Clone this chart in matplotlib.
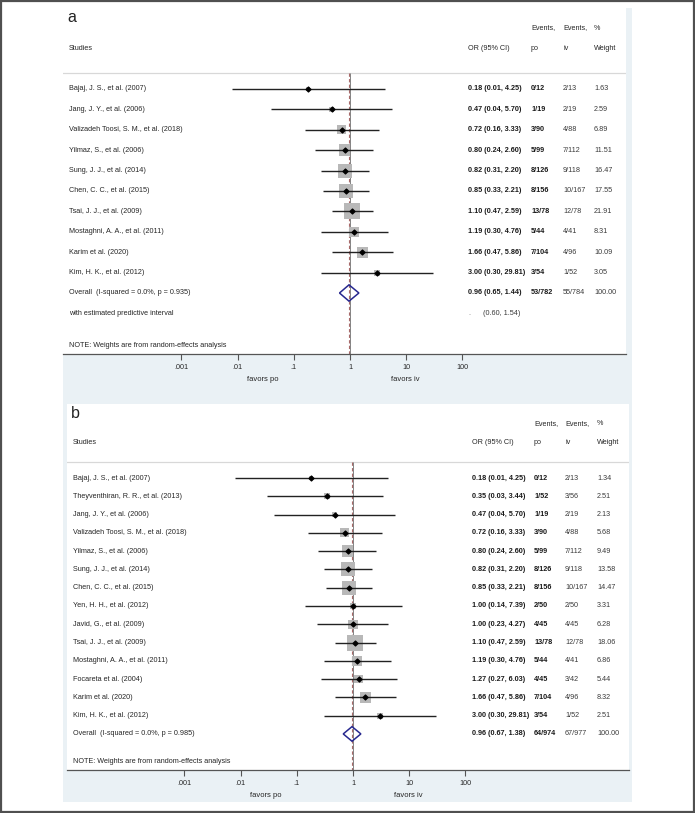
"""Forest plots a and b: OR of po vs iv, random-effects meta-analysis."""

import numpy as np
import matplotlib
matplotlib.use("Agg")
import matplotlib.pyplot as plt
import matplotlib.transforms as mtransforms
from matplotlib.patches import Rectangle, Polygon

plt.rcParams["font.family"] = ["Liberation Sans", "DejaVu Sans"]

# ---------------- data: panel a ----------------
studies_a = ["Bajaj, J. S., et al. (2007)", "Jang, J. Y., et al. (2006)",
             "Valizadeh Toosi, S. M., et al. (2018)", "Yilmaz, S., et al. (2006)",
             "Sung, J. J., et al. (2014)", "Chen, C. C., et al. (2015)",
             "Tsai, J. J., et al. (2009)", "Mostaghni, A. A., et al. (2011)",
             "Karim et al. (2020)", "Kim, H. K., et al. (2012)"]
or_a = [0.18, 0.47, 0.72, 0.80, 0.82, 0.85, 1.10, 1.19, 1.66, 3.00]
lo_a = [0.008, 0.04, 0.16, 0.24, 0.31, 0.33, 0.47, 0.30, 0.47, 0.30]
hi_a = [4.25, 5.70, 3.33, 2.60, 2.20, 2.21, 2.59, 4.76, 5.86, 29.81]
ci_a = ["0.18 (0.01, 4.25)", "0.47 (0.04, 5.70)", "0.72 (0.16, 3.33)",
        "0.80 (0.24, 2.60)", "0.82 (0.31, 2.20)", "0.85 (0.33, 2.21)",
        "1.10 (0.47, 2.59)", "1.19 (0.30, 4.76)", "1.66 (0.47, 5.86)",
        "3.00 (0.30, 29.81)"]
po_a = ["0/12", "1/19", "3/90", "5/99", "8/126", "8/156", "13/78", "5/44", "7/104", "3/54"]
iv_a = ["2/13", "2/19", "4/88", "7/112", "9/118", "10/167", "12/78", "4/41", "4/96", "1/52"]
w_a = [1.63, 2.59, 6.89, 11.51, 16.47, 17.55, 21.91, 8.31, 10.09, 3.05]
overall_a = [0.96, 0.65, 1.44]
overall_txt_a = ["0.96 (0.65, 1.44)", "53/782", "55/784", "100.00"]
het_a = "Overall  (I-squared = 0.0%, p = 0.935)"
pred_a = "(0.60, 1.54)"

# ---------------- data: panel b ----------------
studies_b = ["Bajaj, J. S., et al. (2007)", "Theyventhiran, R. R., et al. (2013)",
             "Jang, J. Y., et al. (2006)", "Valizadeh Toosi, S. M., et al. (2018)",
             "Yilmaz, S., et al. (2006)", "Sung, J. J., et al. (2014)",
             "Chen, C. C., et al. (2015)", "Yen, H. H., et al. (2012)",
             "Javid, G., et al. (2009)", "Tsai, J. J., et al. (2009)",
             "Mostaghni, A. A., et al. (2011)", "Focareta et al. (2004)",
             "Karim et al. (2020)", "Kim, H. K., et al. (2012)"]
or_b = [0.18, 0.35, 0.47, 0.72, 0.80, 0.82, 0.85, 1.00, 1.00, 1.10, 1.19, 1.27, 1.66, 3.00]
lo_b = [0.008, 0.03, 0.04, 0.16, 0.24, 0.31, 0.33, 0.14, 0.23, 0.47, 0.30, 0.27, 0.47, 0.30]
hi_b = [4.25, 3.44, 5.70, 3.33, 2.60, 2.20, 2.21, 7.39, 4.27, 2.59, 4.76, 6.03, 5.86, 29.81]
ci_b = ["0.18 (0.01, 4.25)", "0.35 (0.03, 3.44)", "0.47 (0.04, 5.70)",
        "0.72 (0.16, 3.33)", "0.80 (0.24, 2.60)", "0.82 (0.31, 2.20)",
        "0.85 (0.33, 2.21)", "1.00 (0.14, 7.39)", "1.00 (0.23, 4.27)",
        "1.10 (0.47, 2.59)", "1.19 (0.30, 4.76)", "1.27 (0.27, 6.03)",
        "1.66 (0.47, 5.86)", "3.00 (0.30, 29.81)"]
po_b = ["0/12", "1/52", "1/19", "3/90", "5/99", "8/126", "8/156", "2/50", "4/45",
        "13/78", "5/44", "4/45", "7/104", "3/54"]
iv_b = ["2/13", "3/56", "2/19", "4/88", "7/112", "9/118", "10/167", "2/50", "4/45",
        "12/78", "4/41", "3/42", "4/96", "1/52"]
w_b = [1.34, 2.51, 2.13, 5.68, 9.49, 13.58, 14.47, 3.31, 6.28, 18.06, 6.86, 5.44, 8.32, 2.51]
overall_b = [0.96, 0.67, 1.38]
overall_txt_b = ["0.96 (0.67, 1.38)", "64/974", "67/977", "100.00"]
het_b = "Overall  (I-squared = 0.0%, p = 0.985)"

ticks = [0.001, 0.01, 0.1, 1, 10, 100]
tick_labels = [".001", ".01", ".1", "1", "10", "100"]

W, H = 695, 813
BG = "#eaf1f5"
TXT = "#262626"
NAVY = "#27288f"
FS = 5.2

fig = plt.figure(figsize=(W / 100, H / 100), dpi=100)
fig.add_artist(Rectangle((0.001, 0.001), 0.998, 0.998, transform=fig.transFigure,
                         facecolor="white", edgecolor="#505050", lw=1.6, zorder=-10))


def fbox(x0, y0, x1, y1):
    return [x0 / W, 1 - y1 / H, (x1 - x0) / W, (y1 - y0) / H]


def panel(letter, studies, est, lo, hi, ci, po, iv, w, overall, overall_txt, het,
          pred, graph, plot, one_px, row0, step, cols):
    gx0, gy0, gx1, gy1 = graph
    px0, py0, px1, py1 = plot
    # graph region
    b = fbox(gx0, gy0, gx1, gy1)
    fig.add_artist(Rectangle((b[0], b[1]), b[2], b[3], transform=fig.transFigure,
                             facecolor=BG, edgecolor="none", zorder=-5))
    ax = fig.add_axes(fbox(px0, py0, px1, py1))
    ax.set_facecolor("white")
    dec = 56.2
    ax.set_xscale("log")
    ax.set_xlim(10 ** ((px0 - one_px) / dec), 10 ** ((px1 - one_px) / dec))
    ax.set_ylim((py1 - row0) / step, (py0 - row0) / step)

    def ry(p):
        return (p - row0) / step

    n = len(studies)
    y = np.arange(n)
    tr = mtransforms.blended_transform_factory(ax.transAxes, ax.transData)

    def cx(p):
        return (p - px0) / (px1 - px0)

    # header
    sep = ry(row0 - 16)
    h1, h2 = ry(row0 - 61 * step / 20.4), ry(row0 - 40 * step / 20.4)
    ax.text(cx(px0 + 4), ry(row0 - 72 * step / 20.4), letter, transform=tr,
            fontsize=11.5, color="#222222", va="center", ha="left")
    ax.text(cx(px0 + 6), h2, "Studies", transform=tr, fontsize=FS, color=TXT, va="center")
    ax.text(cx(cols[0]), h2, "OR (95% CI)", transform=tr, fontsize=FS, color=TXT, va="center")
    for c, t1, t2 in zip(cols[1:], ["Events,", "Events,", "%"], ["po", "iv", "Weight"]):
        ax.text(cx(c), h1, t1, transform=tr, fontsize=FS, color=TXT, va="center")
        ax.text(cx(c), h2, t2, transform=tr, fontsize=FS, color=TXT, va="center")
    ax.axhline(sep, color="#d8d8d8", lw=0.9, zorder=1)

    # reference lines
    bottom = ax.get_ylim()[0]
    ax.vlines(1, sep, bottom, color="#707070", lw=0.6, zorder=2)
    ax.vlines(overall[0], sep, bottom, color="#a86a6a", lw=0.8, linestyles=(0, (3, 2)), zorder=2)

    # studies
    side = 16 * np.sqrt(np.array(w) / max(w)) * 0.72
    ax.scatter(est, y, marker="s", s=side ** 2, color="#b8b8b8", edgecolor="none", zorder=3)
    ax.hlines(y, lo, hi, color="#222222", lw=1.0, zorder=4)
    ax.scatter(est, y, marker="D", s=6, color="black", zorder=5)

    # overall diamond
    yo = n
    ax.add_patch(Polygon([(overall[1], yo), (overall[0], yo - 0.4), (overall[2], yo),
                          (overall[0], yo + 0.4)], closed=True, fill=False,
                         edgecolor=NAVY, lw=1.1, zorder=5))

    # text rows
    for i in range(n):
        ax.text(cx(px0 + 6), i, studies[i], transform=tr, fontsize=FS, color=TXT, va="center")
        ax.text(cx(cols[0]), i, ci[i], transform=tr, fontsize=FS, color="#1a1a1a",
                va="center", fontweight="bold")
        ax.text(cx(cols[1]), i, po[i], transform=tr, fontsize=FS, color="#1a1a1a",
                va="center", fontweight="bold")
        ax.text(cx(cols[2]), i, iv[i], transform=tr, fontsize=FS, color="#3a3a3a", va="center")
        ax.text(cx(cols[3]), i, f"{w[i]:.2f}", transform=tr, fontsize=FS, color="#3a3a3a",
                va="center")
    ax.text(cx(px0 + 6), yo, het, transform=tr, fontsize=FS, color=TXT, va="center")
    ax.text(cx(cols[0]), yo, overall_txt[0], transform=tr, fontsize=FS, color="#1a1a1a",
            va="center", fontweight="bold")
    ax.text(cx(cols[1]), yo, overall_txt[1], transform=tr, fontsize=FS, color="#1a1a1a",
            va="center", fontweight="bold")
    ax.text(cx(cols[2]), yo, overall_txt[2], transform=tr, fontsize=FS, color="#3a3a3a",
            va="center")
    ax.text(cx(cols[3]), yo, overall_txt[3], transform=tr, fontsize=FS, color="#3a3a3a",
            va="center")
    if pred is not None:
        ax.text(cx(px0 + 6), yo + 1, "with estimated predictive interval", transform=tr,
                fontsize=FS, color=TXT, va="center")
        ax.text(cx(cols[0]), yo + 1, ".", transform=tr, fontsize=FS, color="#777777", va="center")
        ax.text(cx(cols[0] + 15), yo + 1, pred, transform=tr, fontsize=FS, color="#3a3a3a",
                va="center")
    ax.text(cx(px0 + 6), ry(py1 - 9), "NOTE: Weights are from random-effects analysis",
            transform=tr, fontsize=FS, color=TXT, va="center")

    # axis
    for s in ["top", "right", "left"]:
        ax.spines[s].set_visible(False)
    ax.spines["bottom"].set_color("#555555")
    ax.spines["bottom"].set_linewidth(0.9)
    ax.set_yticks([])
    ax.set_xticks(ticks)
    ax.set_xticklabels(tick_labels)
    ax.xaxis.set_minor_locator(matplotlib.ticker.NullLocator())
    ax.tick_params(axis="x", direction="out", length=4, width=0.8, color="#555555",
                   labelsize=FS, labelcolor=TXT, pad=3)
    fig.text((one_px - 87) / W, 1 - (py1 + 25) / H, "favors po", fontsize=FS + 0.3,
             color=TXT, ha="center", va="center")
    fig.text((one_px + 55) / W, 1 - (py1 + 25) / H, "favors iv", fontsize=FS + 0.3,
             color=TXT, ha="center", va="center")
    return ax


panel("a", studies_a, or_a, lo_a, hi_a, ci_a, po_a, iv_a, w_a, overall_a, overall_txt_a,
      het_a, pred_a, graph=(63, 8, 632, 403), plot=(63, 8, 626, 354), one_px=350,
      row0=89, step=20.4, cols=(468, 531, 563, 594))
panel("b", studies_b, or_b, lo_b, hi_b, ci_b, po_b, iv_b, w_b, overall_b, overall_txt_b,
      het_b, None, graph=(63, 403, 632, 802), plot=(67, 404, 629, 770), one_px=353,
      row0=478, step=18.28, cols=(472, 534, 565, 597))

plt.savefig("out.png", dpi=100, facecolor="white")
plt.close()
